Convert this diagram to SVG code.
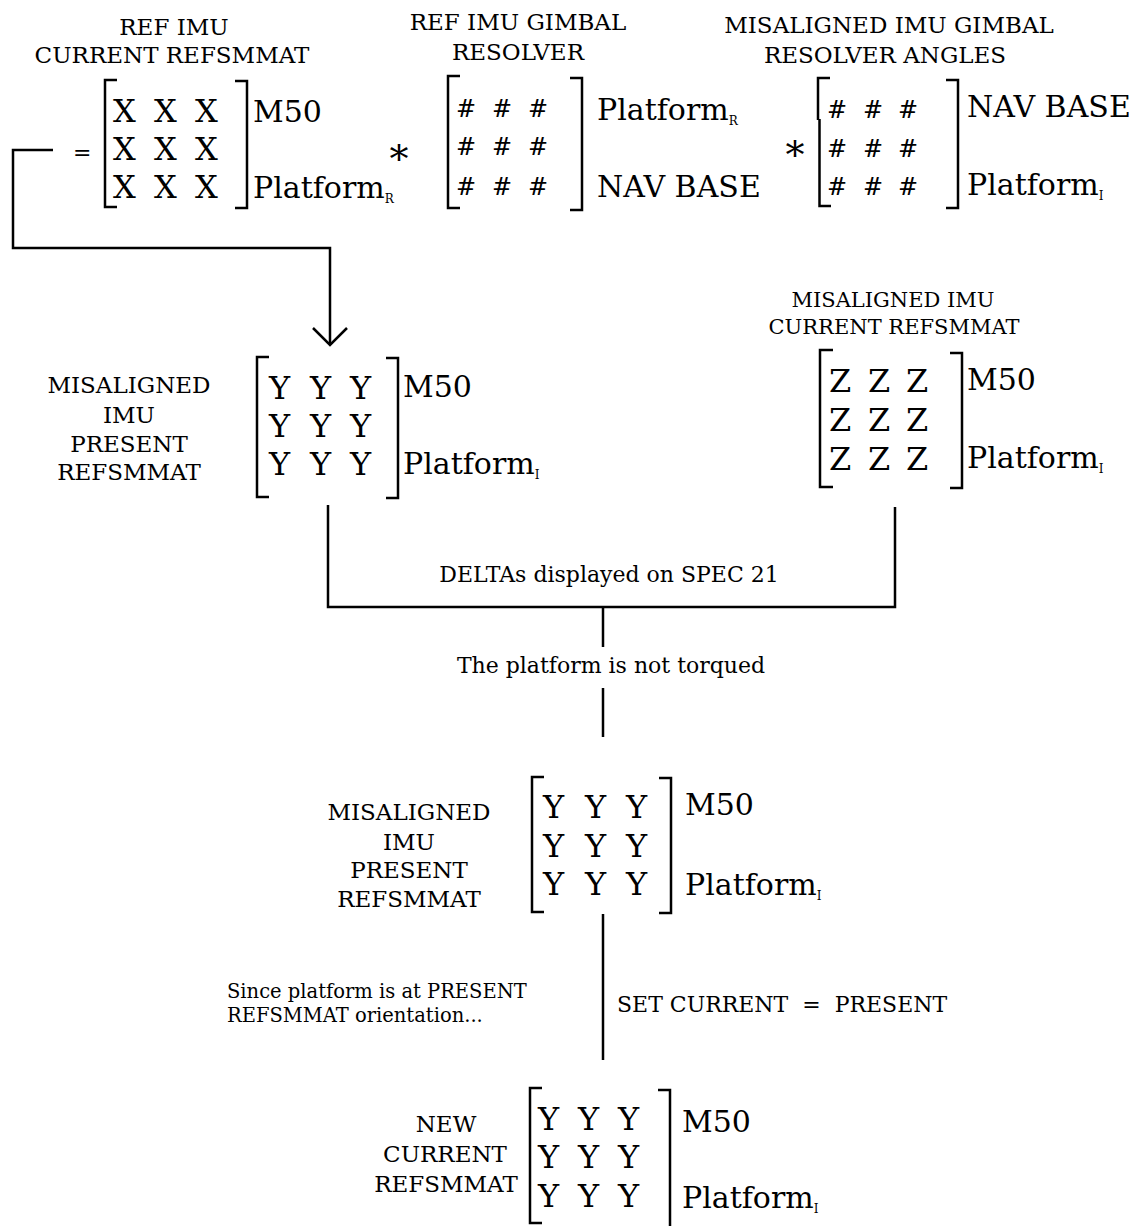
<svg xmlns="http://www.w3.org/2000/svg" width="1146" height="1226" viewBox="0 0 1146 1226">
<style>
text { font-family: "DejaVu Serif", "Liberation Serif", serif; fill: #000; }
.ttl { font-size: 23px; text-anchor: middle; }
.sm { font-size: 21px; text-anchor: middle; }
.ent { font-size: 32px; }
.hash { font-size: 24px; }
.side { font-size: 30px; }
.sub { font-size: 12px; }
.note { font-size: 22px; }
.note2 { font-size: 19.5px; }
.op { font-size: 38px; text-anchor: middle; }
.br, .conn { fill: none; stroke: #000; stroke-width: 2.5; }
</style>
<rect width="1146" height="1226" fill="#fff"/>

<g id="m1">
  <text class="ttl" x="174" y="35">REF IMU</text>
  <text class="ttl" x="172" y="63">CURRENT REFSMMAT</text>
  <text x="73" y="160" style="font-size:22px">=</text>
  <path class="br" d="M117 80 H105 V207 H117"/>
  <path class="br" d="M235 81 H247 V208 H235"/>
  <text class="ent" x="113 154 195" y="122">XXX</text>
  <text class="ent" x="113 154 195" y="160">XXX</text>
  <text class="ent" x="113 154 195" y="198">XXX</text>
  <text class="side" x="253" y="122">M50</text>
  <text class="side" x="253" y="198">Platform<tspan class="sub" dy="5">R</tspan></text>
</g>

<text class="op" x="399" y="172">*</text>

<g id="m2">
  <text class="ttl" x="518" y="30">REF IMU GIMBAL</text>
  <text class="ttl" x="518" y="60">RESOLVER</text>
  <path class="br" d="M460 76 H448 V208 H460"/>
  <path class="br" d="M570 78 H582 V210 H570"/>
  <text class="hash" x="456 492 528" y="117">###</text>
  <text class="hash" x="456 492 528" y="155">###</text>
  <text class="hash" x="456 492 528" y="195">###</text>
  <text class="side" x="597" y="120">Platform<tspan class="sub" dy="5">R</tspan></text>
  <text class="side" x="597" y="197">NAV BASE</text>
</g>

<text class="op" x="795" y="168">*</text>

<g id="m3">
  <text class="ttl" x="889" y="33">MISALIGNED IMU GIMBAL</text>
  <text class="ttl" x="885" y="63">RESOLVER ANGLES</text>
  <path class="br" d="M830 78 H818 V120 M819.5 119 V206 H831"/>
  <path class="br" d="M946 80 H958 V208 H946"/>
  <text class="hash" x="827 863 898" y="118">###</text>
  <text class="hash" x="827 863 898" y="157">###</text>
  <text class="hash" x="827 863 898" y="195">###</text>
  <text class="side" x="967" y="117">NAV BASE</text>
  <text class="side" x="967" y="195">Platform<tspan class="sub" dy="5">I</tspan></text>
</g>

<g id="m4">
  <text class="ttl" x="129" y="393">MISALIGNED</text>
  <text class="ttl" x="129" y="423">IMU</text>
  <text class="ttl" x="129" y="452">PRESENT</text>
  <text class="ttl" x="129" y="480">REFSMMAT</text>
  <path class="br" d="M269 357 H257 V497 H269"/>
  <path class="br" d="M386 358 H398 V498 H386"/>
  <text class="ent" x="269 310 350" y="399">YYY</text>
  <text class="ent" x="269 310 350" y="437">YYY</text>
  <text class="ent" x="269 310 350" y="475">YYY</text>
  <text class="side" x="403" y="397">M50</text>
  <text class="side" x="403" y="474">Platform<tspan class="sub" dy="5">I</tspan></text>
</g>

<g id="m5">
  <text class="sm" x="893" y="307">MISALIGNED IMU</text>
  <text class="sm" x="894" y="334">CURRENT REFSMMAT</text>
  <path class="br" d="M833 350 H820 V487 H833"/>
  <path class="br" d="M950 353 H962 V488 H950"/>
  <text class="ent" x="829 868 906" y="392">ZZZ</text>
  <text class="ent" x="829 868 906" y="431">ZZZ</text>
  <text class="ent" x="829 868 906" y="470">ZZZ</text>
  <text class="side" x="967" y="390">M50</text>
  <text class="side" x="967" y="468">Platform<tspan class="sub" dy="5">I</tspan></text>
</g>

<g id="m6">
  <text class="ttl" x="409" y="820">MISALIGNED</text>
  <text class="ttl" x="409" y="850">IMU</text>
  <text class="ttl" x="409" y="878">PRESENT</text>
  <text class="ttl" x="409" y="907">REFSMMAT</text>
  <path class="br" d="M544 777 H532 V912 H544"/>
  <path class="br" d="M659 778 H671 V913 H659"/>
  <text class="ent" x="543 585 626" y="818">YYY</text>
  <text class="ent" x="543 585 626" y="857">YYY</text>
  <text class="ent" x="543 585 626" y="895">YYY</text>
  <text class="side" x="685" y="815">M50</text>
  <text class="side" x="685" y="895">Platform<tspan class="sub" dy="5">I</tspan></text>
</g>

<g id="m7">
  <text class="ttl" x="446" y="1132">NEW</text>
  <text class="ttl" x="445" y="1162">CURRENT</text>
  <text class="ttl" x="446" y="1192">REFSMMAT</text>
  <path class="br" d="M542 1088 H530 V1223 H542"/>
  <path class="br" d="M658 1090 H670 V1226"/>
  <text class="ent" x="538 578 618" y="1130">YYY</text>
  <text class="ent" x="538 578 618" y="1168">YYY</text>
  <text class="ent" x="538 578 618" y="1207">YYY</text>
  <text class="side" x="682" y="1132">M50</text>
  <text class="side" x="682" y="1208">Platform<tspan class="sub" dy="5">I</tspan></text>
</g>

<g id="connectors">
  <path class="conn" d="M53 150 H13 V248 H330 V345"/>
  <path class="conn" d="M313 328 L330 345 L347 328"/>
  <path class="conn" d="M328 505 V607 H895 V507"/>
  <path class="conn" d="M603 607 V647"/>
  <path class="conn" d="M603 688 V737"/>
  <path class="conn" d="M603 914 V1060"/>
  <text class="note" x="609" y="582" text-anchor="middle">DELTAs displayed on SPEC 21</text>
  <text class="note" x="611" y="673" text-anchor="middle">The platform is not torqued</text>
  <text class="note" x="617" y="1012" xml:space="preserve">SET CURRENT  =  PRESENT</text>
  <text class="note2" x="227" y="998">Since platform is at PRESENT</text>
  <text class="note2" x="227" y="1022">REFSMMAT orientation...</text>
</g>
</svg>
